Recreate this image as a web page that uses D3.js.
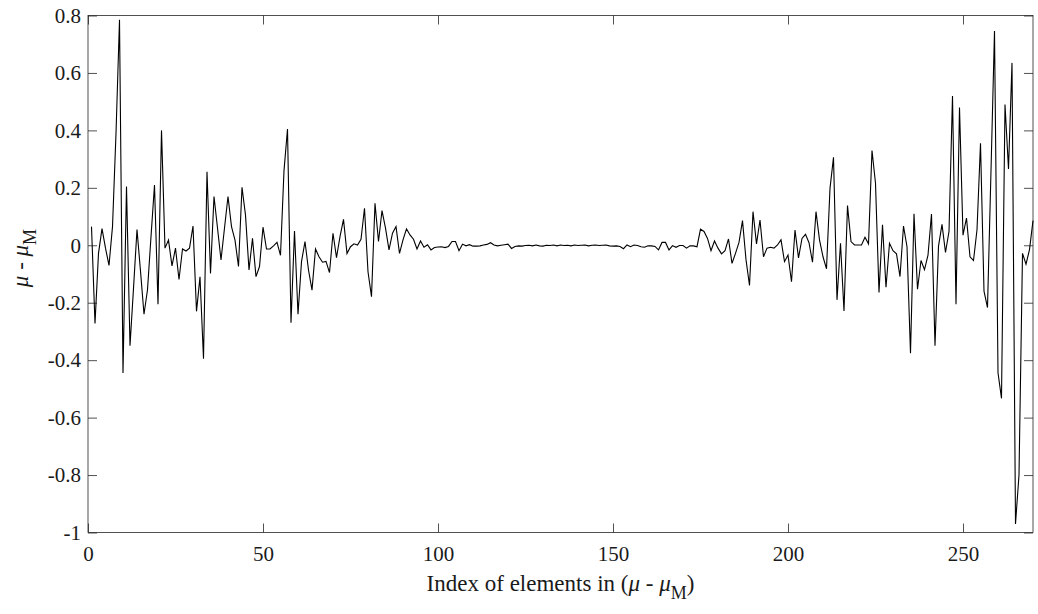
<!DOCTYPE html>
<html>
<head>
<meta charset="utf-8">
<script src="https://cdn.jsdelivr.net/npm/d3@7"></script>
<style>
  body { margin: 0; background: #fff; }
  svg { display: block; }
  .tick text { font-family: 'Liberation Serif', 'Times New Roman', serif; font-size: 21px; fill: #1a1a1a; }
  .lbl { font-family: 'Liberation Serif', 'Times New Roman', serif; font-size: 23px; fill: #1a1a1a; }
</style>
</head>
<body>
<script>
// values of (mu - mu_M), element 1..270
const valuesStart = [
  0.065, -0.272, -0.028, 0.058, -0.01, -0.07, 0.065, 0.39, 0.785, -0.445,
  0.205, -0.35, -0.15, 0.055, -0.09, -0.24, -0.155, 0.03, 0.21, -0.205,
  0.40, -0.01, 0.018, -0.072, -0.01, -0.119, -0.013, -0.02, -0.01, 0.067,
  -0.23, -0.11, -0.395, 0.256, -0.098, 0.17, 0.06, -0.051, 0.06, 0.17,
  0.065, 0.018, -0.074, 0.202, 0.105, -0.086, 0.024, -0.109, -0.074, 0.063,
  -0.013, -0.013, -0.002, 0.01, -0.035, 0.26, 0.405, -0.27, 0.05, -0.24,
  -0.057, 0.013, -0.086, -0.156, -0.013, -0.04, -0.059, -0.056, -0.095, 0.042,
  -0.043, 0.03, 0.09, -0.029, -0.005, 0.005, 0.001, 0.021, 0.129, -0.092,
  -0.179, 0.146, 0.013, 0.121, 0.06, -0.016, 0.042, 0.065, -0.028, 0.019,
  0.057, 0.036, 0.021, -0.013, 0.015, -0.007, 0.002, -0.016, -0.008, -0.006
]
const valuesMiddle = [
  -0.005, -0.008, -0.004, 0.013, 0.013, -0.019, 0.004, -0.002, 0.002, -0.003,
  -0.003, -0.002, 0.001, 0.003, 0.009, 0.001, -0.002, 0.0, 0.002, 0.004,
  -0.011, -0.004, -0.002, -0.003, -0.001, 0.0, -0.002, 0.001, -0.002, -0.003,
  0.0, -0.001, 0.001, -0.002, 0.001, -0.001, 0.0, -0.002, 0.001, -0.001,
  0.0, 0.001, -0.002, 0.0, 0.001, -0.001, 0.0, 0.001, -0.002, -0.003,
  -0.002, -0.004, -0.012, 0.001, -0.005, 0.001, -0.001, -0.005, -0.007, -0.002,
  -0.002, -0.004, -0.016, 0.01, 0.01, -0.016, -0.001, -0.007, -0.001, -0.001,
  -0.01, -0.002, -0.002, -0.005
]
const valuesEnd = [
  0.056, 0.048, 0.024, -0.019, 0.015, -0.01, -0.03, -0.019, 0.022, -0.063,
  -0.028, 0.01, 0.086, -0.05, -0.14, 0.117, 0.005, 0.088, -0.04, -0.01,
  -0.007, -0.01, 0.001, 0.019, -0.057, -0.034, -0.127, 0.053, -0.044, 0.024,
  0.038, 0.009, -0.059, 0.117, 0.019, -0.04, -0.082, 0.198, 0.306, -0.19,
  0.007, -0.229, 0.138, 0.013, 0.001, 0.001, 0.001, 0.028, 0.005, 0.33,
  0.216, -0.164, 0.071, -0.146, 0.007, -0.019, -0.03, -0.109, 0.067, -0.005,
  -0.376, 0.11, -0.153, -0.053, -0.085, -0.034, 0.109, -0.35, -0.003, 0.073,
  -0.025, 0.048, 0.52, -0.205, 0.48, 0.035, 0.095, -0.04, -0.053, 0.054,
  0.355, -0.16, -0.217, 0.26, 0.746, -0.444, -0.533, 0.49, 0.266, 0.635,
  -0.97, -0.80, -0.028, -0.066, -0.015, 0.086
]
const xTicks = [0, 50, 100, 150, 200, 250]
const yTicks = [-1, -0.8, -0.6, -0.4, -0.2, 0, 0.2, 0.4, 0.6, 0.8]

const values = valuesStart.concat(valuesMiddle, valuesEnd)
const data = values.map((v, i) => ({ index: i + 1, value: v }))

// size of the whole picture and the axes box
const margin = { top: 15.5, bottom: 81.5, left: 88, right: 5 }
const width = 1038 - margin.left - margin.right
const height = 614 - margin.top - margin.bottom

const svg = d3.select('body').append('svg')
  .attr('width', 1038)
  .attr('height', 614)

const g = svg.append('g').attr('transform', `translate(${margin.left},${margin.top})`)

const xscale = d3.scaleLinear().domain([0, 270]).range([0, width])
const yscale = d3.scaleLinear().domain([-1, 0.8]).range([height, 0])

const fmt = d => String(d)
const tick = 9

// bottom + left axes with labels, ticks pointing inward
g.append('g').attr('transform', `translate(0,${height})`)
  .call(d3.axisBottom(xscale).tickValues(xTicks).tickFormat(fmt).tickSizeInner(-tick).tickSizeOuter(0).tickPadding(14))
g.append('g')
  .call(d3.axisLeft(yscale).tickValues(yTicks).tickFormat(fmt).tickSizeInner(-tick).tickSizeOuter(0).tickPadding(7))
// mirrored ticks on top and right, no labels
g.append('g')
  .call(d3.axisTop(xscale).tickValues(xTicks).tickFormat('').tickSizeInner(-tick).tickSizeOuter(0))
g.append('g').attr('transform', `translate(${width},0)`)
  .call(d3.axisRight(yscale).tickValues(yTicks).tickFormat('').tickSizeInner(-tick).tickSizeOuter(0))

g.selectAll('.domain').remove()
g.selectAll('.tick line').attr('stroke', '#262626').attr('stroke-width', 0.8)

// box
g.append('rect')
  .attr('width', width)
  .attr('height', height)
  .attr('fill', 'none')
  .attr('stroke', '#262626')
  .attr('stroke-width', 0.8)

// the line
const line = d3.line()
  .x(d => xscale(d.index))
  .y(d => yscale(d.value))

g.append('path')
  .datum(data)
  .attr('d', line)
  .attr('fill', 'none')
  .attr('stroke', '#000')
  .attr('stroke-width', 1.1)
  .attr('stroke-linejoin', 'miter')

// x label: Index of elements in (mu - mu_M)
const xl = svg.append('text').attr('class', 'lbl')
  .attr('x', margin.left + width / 2)
  .attr('y', 591)
  .attr('text-anchor', 'middle')
xl.append('tspan').text('Index of elements in (')
xl.append('tspan').attr('font-style', 'italic').text('μ')
xl.append('tspan').text(' - ')
xl.append('tspan').attr('font-style', 'italic').text('μ')
xl.append('tspan').attr('font-size', '18px').attr('dy', 8).text('M')
xl.append('tspan').attr('dy', -8).text(')')

// y label: mu - mu_M
const yl = svg.append('text').attr('class', 'lbl')
  .attr('transform', 'translate(28,258) rotate(-90)')
  .attr('text-anchor', 'middle')
yl.append('tspan').attr('font-style', 'italic').text('μ')
yl.append('tspan').text(' - ')
yl.append('tspan').attr('font-style', 'italic').text('μ')
yl.append('tspan').attr('font-size', '18px').attr('dy', 8).text('M')
</script>
</body>
</html>
